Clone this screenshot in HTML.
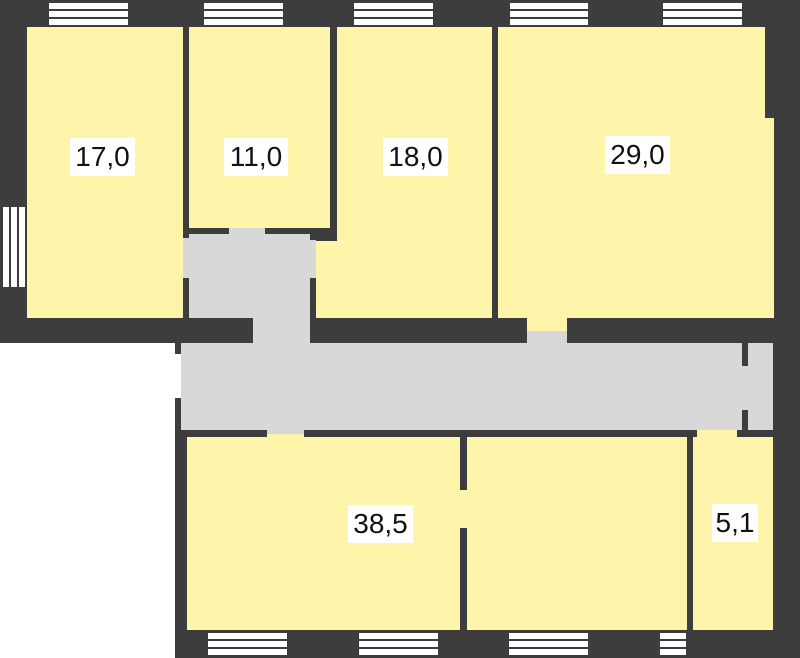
<!DOCTYPE html>
<html><head><style>
body{margin:0;width:800px;height:658px;position:relative;background:#fff;overflow:hidden;font-family:"Liberation Sans",sans-serif}
div{position:absolute}
.d{background:#3d3d3d}.y{background:#fef5aa}.g{background:#d8d8d8}
.w{background:repeating-linear-gradient(#fff 0 6px,#3d3d3d 6px 8px)}
.wv{background:repeating-linear-gradient(90deg,#fff 0 6px,#3d3d3d 6px 8px)}
.l{background:#fff;font-size:28px;color:#111;text-align:center;line-height:38px;height:38px}
</style></head><body>
<div class="d" style="left:0;top:0;width:800px;height:343px"></div>
<div class="d" style="top:343px;left:175px;width:625px;height:315px"></div>
<div style="background:#fff;left:175px;top:354px;width:6px;height:44px"></div>
<div class="g" style="left:181px;top:343px;width:592px;height:87px"></div>
<div class="g" style="left:189px;top:234px;width:121px;height:84px"></div>
<div class="g" style="left:253px;top:318px;width:57px;height:25px"></div>
<div class="g" style="left:183px;top:238px;width:6px;height:40px"></div>
<div class="g" style="left:310px;top:240px;width:6px;height:38px"></div>
<!-- top rooms -->
<div class="y" style="left:27px;top:27px;width:156px;height:291px"></div>
<div class="y" style="left:189px;top:27px;width:141px;height:201px"></div>
<div class="g" style="left:229px;top:228px;width:36px;height:6px"></div>
<div class="y" style="left:337px;top:27px;width:155px;height:291px"></div>
<div class="y" style="left:316px;top:241px;width:21px;height:77px"></div>
<div class="y" style="left:498px;top:27px;width:267px;height:291px"></div>
<div class="y" style="left:765px;top:118px;width:9px;height:200px"></div>
<div class="y" style="left:527px;top:318px;width:40px;height:13px"></div>
<div class="g" style="left:527px;top:331px;width:40px;height:12px"></div>
<!-- corridor stubs -->
<div class="d" style="left:742px;top:343px;width:6px;height:23px"></div>
<div class="d" style="left:742px;top:410px;width:6px;height:22px"></div>
<!-- lower rooms -->
<div class="y" style="left:187px;top:437px;width:273px;height:193px"></div>
<div class="g" style="left:267px;top:430px;width:37px;height:4px"></div>
<div class="y" style="left:267px;top:434px;width:37px;height:3px"></div>
<div class="y" style="left:460px;top:490px;width:7px;height:38px"></div>
<div class="y" style="left:467px;top:437px;width:220px;height:193px"></div>
<div class="y" style="left:693px;top:437px;width:80px;height:193px"></div>
<div class="y" style="left:697px;top:430px;width:40px;height:7px"></div>
<!-- windows -->
<div class="w" style="left:49px;top:3px;width:79px;height:22px"></div>
<div class="w" style="left:204px;top:3px;width:79px;height:22px"></div>
<div class="w" style="left:354px;top:3px;width:79px;height:22px"></div>
<div class="w" style="left:510px;top:3px;width:78px;height:22px"></div>
<div class="w" style="left:663px;top:3px;width:79px;height:22px"></div>
<div class="wv" style="left:3px;top:207px;width:22px;height:80px"></div>
<div class="w" style="left:208px;top:633px;width:79px;height:22px"></div>
<div class="w" style="left:359px;top:633px;width:79px;height:22px"></div>
<div class="w" style="left:509px;top:633px;width:79px;height:22px"></div>
<div class="w" style="left:660px;top:633px;width:26px;height:22px"></div>
<!-- labels -->
<div class="l" style="left:70px;top:138px;width:65px">17,0</div>
<div class="l" style="left:224px;top:138px;width:64px">11,0</div>
<div class="l" style="left:383px;top:138px;width:65px">18,0</div>
<div class="l" style="left:605px;top:136px;width:65px">29,0</div>
<div class="l" style="left:348px;top:505px;width:65px">38,5</div>
<div class="l" style="left:712px;top:504px;width:46px">5,1</div>
</body></html>
